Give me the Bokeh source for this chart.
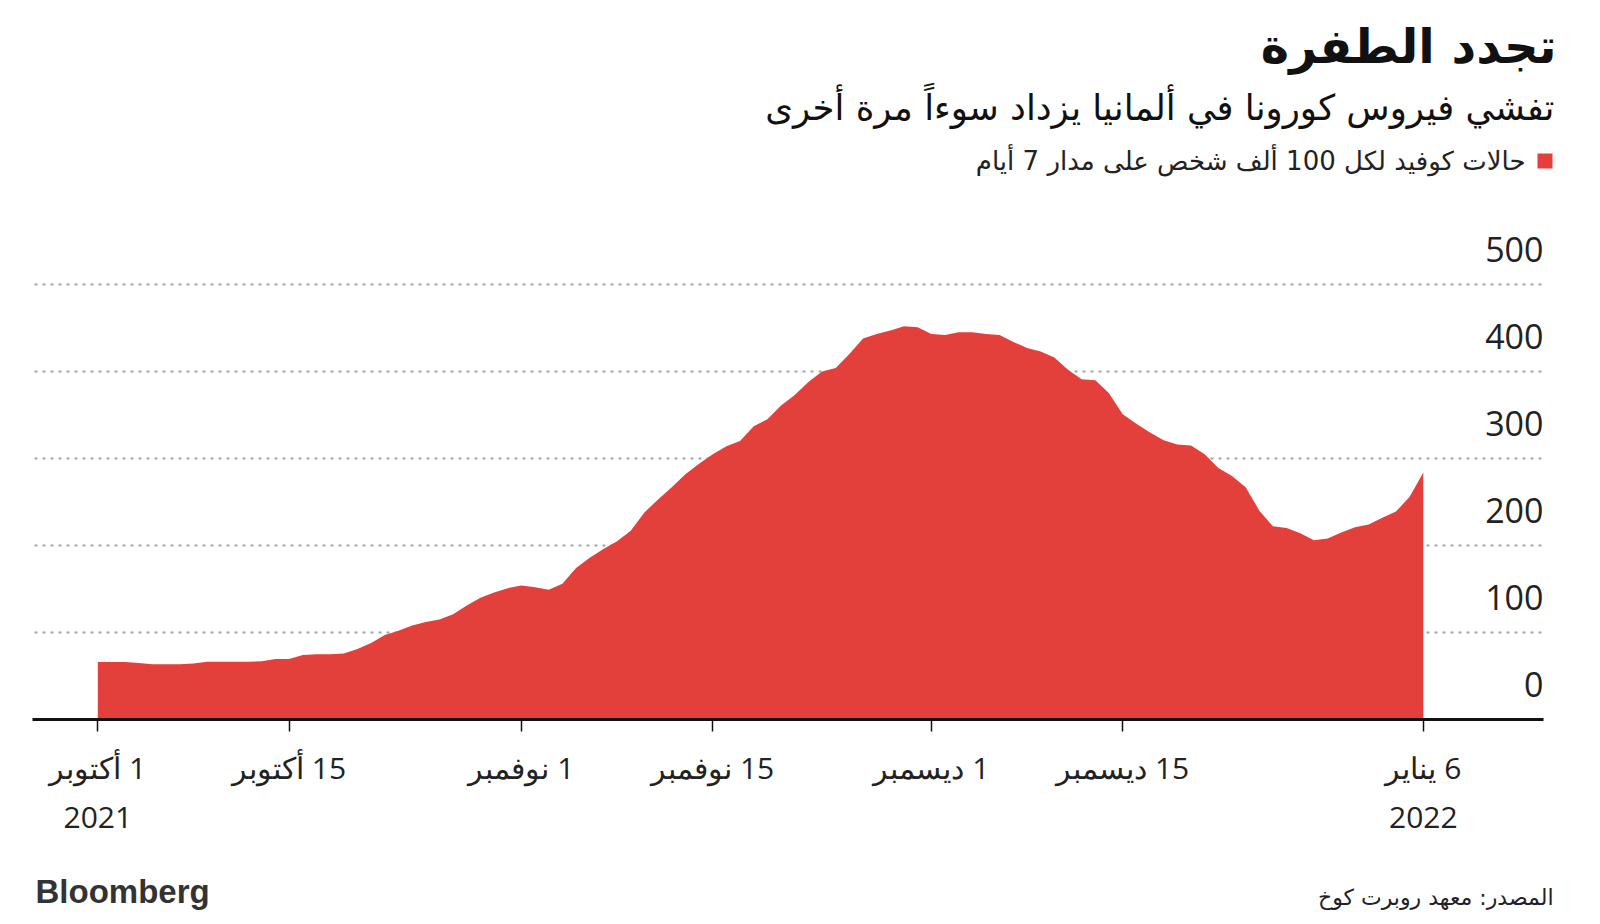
import pandas as pd
from bokeh.plotting import figure
from bokeh.models import (Range1d, FixedTicker, Label, LabelSet, ColumnDataSource,
                          DatetimeAxis, BoxAnnotation)
from bokeh.embed import file_html
from bokeh.resources import INLINE
from bokeh.core.properties import value

# ---------------- data ----------------
start_date = "2021-10-01"
cases = [66, 66, 66, 65, 63.5, 63.5, 63.5, 64.5, 66.5, 66.5,
         66.5, 66.5, 67, 69.5, 69.5, 74, 75, 75, 76, 81,
         88, 97, 102, 108, 112, 115, 121, 131, 140, 146,
         151, 154, 152, 149, 156, 174, 186, 196, 205, 217,
         238, 253, 267, 282, 294, 305, 314, 320, 337, 345,
         361, 373, 388, 400, 404, 420, 438, 443, 447, 452,
         451, 443, 442, 445, 445, 443, 442, 434, 427, 423,
         416, 402, 391, 390, 375, 351, 340, 330, 321, 316,
         315, 305, 289, 280, 267, 240, 222, 220, 214, 206,
         208, 215, 221, 224, 232, 239, 256, 284]
tick_dates = ["2021-10-01", "2021-10-15", "2021-11-01", "2021-11-15",
              "2021-12-01", "2021-12-15", "2022-01-06"]
tick_labels = ["1 أكتوبر\n2021", "15 أكتوبر", "1 نوفمبر", "15 نوفمبر",
               "1 ديسمبر", "15 ديسمبر", "6 يناير\n2022"]
y_ticks = [0, 100, 200, 300, 400, 500]
y_labels = ["0", "100", "200", "300", "400", "500"]

title = "تجدد الطفرة"
subtitle = "تفشي فيروس كورونا في ألمانيا يزداد سوءاً مرة أخرى"
legend_text = "حالات كوفيد لكل 100 ألف شخص على مدار 7 أيام"
source_text = "المصدر: معهد روبرت كوخ"
brand = "Bloomberg"

RED = "#e4403b"
ARABIC = "DejaVu Sans"
NUM = "Open Sans"

# ---------------- layout helpers (page px -> data) ----------------
W, H = 1600, 924
DAY_MS = 86400000.0
T0 = pd.Timestamp(start_date).value / 1e6
X_OCT1, PX_PER_DAY = 97.3, 13.665      # page x of first date, px per day
Y_ZERO, PX_PER_UNIT = 719.0, 0.87      # page y of value 0, px per unit


def xd(X):
    return T0 + (X - X_OCT1) / PX_PER_DAY * DAY_MS


def yd(Y):
    return (Y_ZERO - Y) / PX_PER_UNIT


dates = pd.date_range(start_date, periods=len(cases), freq="D")

p = figure(width=W, height=H, output_backend="svg", toolbar_location=None,
           x_axis_type="datetime", x_axis_location=None, y_axis_location=None,
           x_range=Range1d(xd(0), xd(W)), y_range=Range1d(yd(H), yd(0)),
           min_border=0)
p.outline_line_color = None
p.background_fill_color = "white"
p.border_fill_color = "white"
p.xgrid.visible = False
p.ygrid.visible = False

# dotted gridlines (behind the area)
gx0, gx1 = xd(34), xd(1543)
p.segment(x0=[gx0] * 5, x1=[gx1] * 5, y0=y_ticks[1:], y1=y_ticks[1:],
          line_color="#a6a6a6", line_width=2, line_dash="3 5")

p.varea(x=dates, y1=0, y2=cases, fill_color=RED, fill_alpha=1.0)

# x axis at value 0
tick_ms = [pd.Timestamp(d).value / 1e6 for d in tick_dates]
xa = DatetimeAxis(fixed_location=0, bounds=(xd(32), xd(1543)))
xa.ticker = FixedTicker(ticks=tick_ms)
xa.major_label_overrides = {t: "\u200f" + lab for t, lab in zip(tick_ms, tick_labels)}
xa.axis_line_width = 3
xa.axis_line_color = "#111111"
xa.major_tick_in = 0
xa.major_tick_out = 12
xa.major_tick_line_width = 1.5
xa.major_tick_line_color = "#111111"
xa.minor_tick_line_color = None
xa.major_label_text_font = NUM
xa.major_label_text_font_size = "30px"
xa.major_label_text_color = "#222222"
xa.major_label_standoff = 15
p.add_layout(xa, "below")

# y labels (above their gridlines, right aligned)
ysrc = ColumnDataSource(dict(x=[xd(1543)] * len(y_ticks), y=y_ticks, t=y_labels))
p.add_layout(LabelSet(x="x", y="y", text="t", source=ysrc, text_align="right",
                      text_baseline="middle", y_offset=35, text_font=value(NUM),
                      text_font_size="34px", text_color="#222222"))


def add_text(txt, X, Y, size, font, align="right", bold=False, color="#111111"):
    p.add_layout(Label(x=xd(X), y=yd(Y), text=txt, text_align=align,
                       text_baseline="middle", text_font=font, text_font_size=size,
                       text_font_style="bold" if bold else "normal",
                       text_color=color))


add_text(title, 1556, 45, "48px", ARABIC, bold=True)
add_text(subtitle, 1554, 107, "35.5px", ARABIC)
add_text(legend_text, 1525, 160, "26px", ARABIC, color="#222222")
add_text(source_text, 1553, 897, "22px", ARABIC, color="#222222")
add_text(brand, 35, 891, "33px", "Liberation Sans", align="left", bold=True, color="#333333")

# legend swatch
p.add_layout(BoxAnnotation(left=xd(1537), right=xd(1552), top=yd(153), bottom=yd(168),
                           fill_color=RED, fill_alpha=1.0, line_color=None))

open("out.html", "w").write(file_html(p, INLINE))
